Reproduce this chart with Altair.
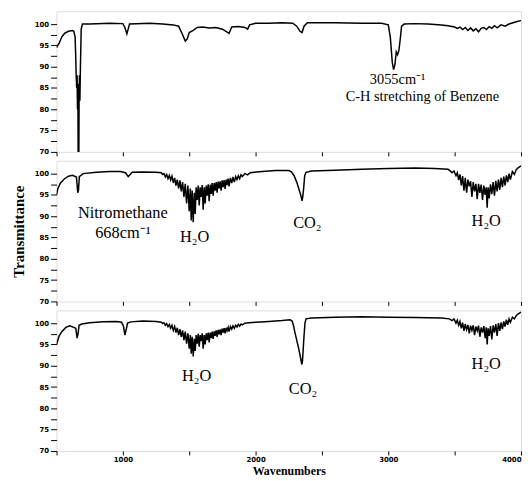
import altair as alt
import pandas as pd

# ---------------- data ----------------
# Top panel: benzene
top_wn = [500, 520, 540, 560, 590, 620, 630, 640, 645, 648, 652, 655, 658, 661, 664, 667, 670, 673, 676, 680, 686, 695,
          750, 900, 1000, 1015, 1030, 1040, 1050, 1200, 1300, 1380, 1420, 1450, 1470, 1485, 1500, 1530, 1560,
          1600, 1650, 1700, 1750, 1780, 1800, 1820, 1870, 1920, 1940, 1955, 2000, 2100, 2200, 2280, 2310, 2335,
          2350, 2365, 2390, 2600, 2800, 2950, 3000, 3015, 3030, 3040, 3050, 3060, 3070, 3080, 3090, 3100, 3120,
          3200, 3300, 3400, 3450, 3500, 3520, 3540, 3560, 3580, 3600, 3620, 3640, 3660, 3680, 3700, 3720, 3740,
          3760, 3780, 3800, 3820, 3850, 3880, 3910, 3940, 3970, 4000]
top_t = [94.5, 95.5, 97.0, 97.8, 98.3, 98.5, 98.3, 97.0, 92.0, 88.0, 85.0, 88.0, 80.0, 86.0, 60.0, 60.0, 83.0, 88.0, 82.0, 90.0, 98.8, 100.0,
         100.0, 100.2, 100.1, 99.2, 97.7, 98.8, 100.0, 100.2, 100.0, 99.8, 99.5, 97.5, 96.0, 96.5, 98.0, 98.5, 99.2,
         99.3, 99.1, 99.2, 98.8, 98.2, 97.8, 99.3, 99.4, 99.2, 98.8, 99.8, 100.2, 100.2, 100.3, 100.2, 99.5, 98.3,
         98.0, 99.5, 100.3, 100.3, 100.2, 100.2, 99.8, 97.0, 91.0, 89.3, 90.5, 93.5, 92.8, 93.8, 96.5, 99.5, 100.0,
         100.1, 100.0, 99.8, 99.6, 99.3, 99.0, 99.3, 98.7, 99.2, 98.5, 99.1, 98.4, 98.9, 98.2, 99.0, 99.2, 98.7,
         99.4, 99.0, 99.6, 99.1, 99.8, 99.5, 100.0, 100.3, 100.6, 100.8]

# Middle panel: nitromethane
mid_wn = [500, 510, 530, 560, 590, 620, 650, 660, 665, 672, 700, 800, 900, 980, 1020, 1040, 1055, 1070, 1150, 1250,
          1290, 1300, 1310, 1320, 1330, 1340, 1350, 1360, 1370, 1380, 1390, 1400, 1410, 1420, 1430, 1440, 1450,
          1460, 1470, 1480, 1490, 1500, 1508, 1515, 1522, 1530, 1538, 1545, 1552, 1560, 1568, 1575, 1583, 1590,
          1598, 1605, 1613, 1620, 1628, 1635, 1643, 1650, 1658, 1665, 1673, 1680, 1688, 1695, 1703, 1710, 1718,
          1725, 1733, 1740, 1748, 1755, 1763, 1770, 1778, 1785, 1793, 1800, 1810, 1820, 1830, 1840, 1850, 1860,
          1870, 1880, 1890, 1900, 1920, 1940, 1960, 1990, 2050, 2150, 2250, 2270, 2290, 2310, 2325, 2340, 2350,
          2355, 2362, 2370, 2380, 2420, 2600, 2800, 3000, 3200, 3350, 3450, 3460, 3480, 3495, 3510, 3520, 3530,
          3540, 3550, 3560, 3570, 3580, 3590, 3600, 3610, 3620, 3630, 3640, 3650, 3660, 3670, 3680, 3690, 3700,
          3710, 3720, 3730, 3738, 3745, 3752, 3760, 3770, 3780, 3790, 3800, 3810, 3820, 3830, 3840, 3850, 3860,
          3870, 3880, 3890, 3900, 3910, 3920, 3935, 3950, 3965, 3980, 4000]
mid_t = [95.0, 96.5, 97.8, 98.8, 99.4, 99.6, 99.2, 95.5, 96.0, 99.3, 100.0, 100.3, 100.5, 100.5, 100.2, 99.3, 99.8, 100.3, 100.4, 100.3,
         100.2, 99.8, 100.0, 99.2, 99.8, 98.8, 99.6, 98.5, 99.4, 97.8, 99.0, 97.2, 98.6, 96.5, 98.4, 95.8, 98.0,
         94.5, 97.6, 93.0, 97.2, 91.2, 96.5, 89.0, 96.0, 88.6, 95.5, 90.5, 96.8, 93.8, 97.2, 92.5, 96.8, 94.5,
         97.3, 91.5, 96.8, 93.0, 97.2, 94.8, 97.5, 93.5, 97.4, 95.2, 97.8, 94.8, 97.8, 96.0, 98.0, 95.5, 98.1,
         96.5, 98.2, 96.0, 98.4, 96.8, 98.5, 96.4, 98.6, 97.3, 98.8, 97.0, 99.0, 97.8, 99.2, 98.0, 99.3, 98.6,
         99.5, 98.8, 99.7, 99.3, 100.0, 99.7, 100.2, 100.3, 100.5, 100.7, 100.7, 100.4, 99.5, 98.0, 96.5, 95.0, 93.6,
         94.5, 96.5, 99.5, 100.3, 100.6, 100.8, 101.0, 101.2, 101.3, 101.2, 101.0, 100.8, 100.2, 100.6, 99.5, 100.2, 98.5,
         99.8, 97.2, 99.4, 96.0, 99.0, 95.5, 98.6, 97.0, 98.2, 94.5, 98.0, 95.8, 97.6, 94.0, 97.6, 95.5, 97.4,
         93.8, 97.2, 95.0, 96.8, 92.0, 96.8, 94.2, 97.5, 95.2, 98.0, 94.8, 98.3, 95.8, 98.6, 96.2, 99.0, 96.8,
         99.3, 97.2, 99.6, 98.0, 100.0, 98.6, 100.5, 99.8, 101.0, 101.4, 101.8]

# Bottom panel
bot_wn = [500, 505, 520, 540, 570, 600, 630, 645, 655, 662, 670, 690, 750, 850, 950, 990, 1005, 1015, 1025, 1035,
          1060, 1150, 1250, 1290, 1300, 1310, 1320, 1330, 1340, 1350, 1360, 1370, 1380, 1390, 1400, 1410, 1420,
          1430, 1440, 1450, 1460, 1470, 1480, 1490, 1500, 1508, 1515, 1522, 1530, 1538, 1545, 1552, 1560, 1568,
          1575, 1583, 1590, 1598, 1605, 1613, 1620, 1628, 1635, 1643, 1650, 1658, 1665, 1673, 1680, 1688, 1695,
          1703, 1710, 1718, 1725, 1733, 1740, 1748, 1755, 1763, 1770, 1778, 1785, 1793, 1800, 1810, 1820, 1830,
          1840, 1850, 1860, 1870, 1880, 1890, 1900, 1920, 1950, 2000, 2100, 2200, 2260, 2275, 2285, 2295, 2310,
          2325, 2338, 2348, 2353, 2358, 2365, 2372, 2380, 2420, 2600, 2800, 3000, 3200, 3400, 3460, 3480, 3495,
          3510, 3520, 3530, 3540, 3550, 3560, 3570, 3580, 3590, 3600, 3610, 3620, 3630, 3640, 3650, 3660, 3670,
          3680, 3690, 3700, 3710, 3720, 3730, 3738, 3745, 3752, 3760, 3770, 3780, 3790, 3800, 3810, 3820, 3830,
          3840, 3850, 3860, 3870, 3880, 3890, 3900, 3910, 3920, 3935, 3950, 3965, 3980, 4000]
bot_t = [95.0, 95.5, 97.0, 98.0, 99.0, 99.4, 99.0, 98.8, 96.5, 97.5, 99.5, 99.8, 100.1, 100.3, 100.4, 100.2, 99.2, 97.2, 98.5, 100.0,
         100.3, 100.5, 100.4, 100.2, 99.9, 100.1, 99.5, 99.9, 99.2, 99.7, 98.8, 99.5, 98.3, 99.2, 97.8, 98.9, 97.2,
         98.6, 96.8, 98.3, 96.0, 98.0, 95.2, 97.6, 94.0, 97.2, 92.8, 96.8, 92.2, 96.3, 93.5, 97.2, 95.2, 97.5,
         94.5, 97.2, 95.8, 97.6, 94.0, 97.2, 95.0, 97.6, 96.0, 97.8, 95.5, 97.8, 96.5, 98.0, 96.3, 98.1, 97.0,
         98.3, 96.8, 98.4, 97.4, 98.5, 97.2, 98.7, 97.8, 98.8, 97.6, 98.9, 98.2, 99.0, 98.0, 99.2, 98.6, 99.4,
         98.8, 99.5, 99.1, 99.7, 99.3, 99.8, 99.6, 100.0, 100.1, 100.2, 100.4, 100.6, 100.8, 100.5, 99.5, 98.0, 96.0,
         94.0, 92.0, 90.3, 91.0, 93.5, 97.0, 100.0, 101.0, 101.2, 101.4, 101.5, 101.4, 101.3, 101.2, 101.0, 100.6, 101.0,
         100.0, 100.7, 99.5, 100.4, 98.8, 100.1, 98.2, 99.8, 98.5, 99.6, 97.6, 99.4, 98.3, 99.5, 97.2, 99.2, 98.2,
         99.4, 96.8, 99.0, 97.8, 99.3, 96.5, 99.0, 95.0, 98.8, 97.0, 99.3, 96.2, 99.5, 97.8, 99.8, 97.0, 100.0,
         98.2, 100.2, 98.6, 100.4, 99.2, 100.8, 99.6, 101.0, 100.2, 101.4, 101.0, 101.8, 102.2, 102.6]

# Annotations (text, wavenumber, transmittance)
top_notes = ["3055cm⁻¹", "C-H stretching of Benzene"]
top_notes_wn = [3070, 3257]
top_notes_t = [86.8, 82.9]

mid_notes = ["Nitromethane", "668cm⁻¹", "H₂O", "CO₂", "H₂O"]
mid_notes_wn = [1000, 1000, 1540, 2390, 3738]
mid_notes_t = [90.8, 86.0, 85.1, 88.3, 88.8]

bot_notes = ["H₂O", "CO₂", "H₂O"]
bot_notes_wn = [1555, 2357, 3738]
bot_notes_t = [87.5, 84.5, 90.3]

x_ticks = [500, 1000, 1500, 2000, 2500, 3000, 3500, 4000]
y_ticks = [70, 72.5, 75, 77.5, 80, 82.5, 85, 87.5, 90, 92.5, 95, 97.5, 100]

# ---------------- chart ----------------
W, H = 469, 142
SERIF = "Liberation Serif"


def panel(wn, t, nt, nwn, nval, note_size, bottom=False, ytitle=""):
    df = pd.DataFrame({"wn": wn, "t": t})
    notes = pd.DataFrame({"label": nt, "wn": nwn, "t": nval})

    xaxis_kw = dict(values=x_ticks, format="d",
                    labelExpr="datum.value % 1000 == 0 ? datum.label : ''",
                    tickSize=4, tickColor="black", domain=False, grid=False,
                    labelFont="DejaVu Sans", labelFontSize=7, labelFontWeight="bold",
                    labelColor="black", labelPadding=1, labelFlush=True, labelOverlap=False,
                    titleFont=SERIF, titleFontSize=12, titleFontWeight="bold",
                    titleColor="black", titlePadding=3)
    if bottom:
        xaxis_kw["title"] = "Wavenumbers"
    else:
        xaxis_kw["title"] = ""
        xaxis_kw["labels"] = False

    yaxis = alt.Axis(values=y_ticks, format="d",
                     labelExpr="datum.value % 5 == 0 ? datum.label : ''",
                     tickSize=6, tickColor="black", domain=False, grid=False,
                     labelFont="DejaVu Sans", labelFontSize=7, labelFontWeight="bold",
                     labelColor="black", labelPadding=2, labelOverlap=False,
                     title=ytitle, titleFont=SERIF, titleFontSize=15,
                     titleFontWeight="bold", titleColor="black", titlePadding=8)

    x = alt.X("wn:Q", scale=alt.Scale(domain=[500, 4000], nice=False), axis=alt.Axis(**xaxis_kw))
    y = alt.Y("t:Q", scale=alt.Scale(domain=[70, 103], nice=False, zero=False), axis=yaxis)

    line = alt.Chart(df).mark_line(color="black", strokeWidth=1.5, clip=True).encode(
        x=x, y=y, order="wn:Q")
    text = alt.Chart(notes).mark_text(font=SERIF, fontSize=note_size, color="black",
                                      align="center", baseline="middle").encode(
        x=x, y=y, text="label:N")
    return alt.layer(line, text).properties(width=W, height=H)


top = panel(top_wn, top_t, top_notes, top_notes_wn, top_notes_t, 14.5)
mid = panel(mid_wn, mid_t, mid_notes, mid_notes_wn, mid_notes_t, 16.5, ytitle="Transmittance")
bot = panel(bot_wn, bot_t, bot_notes, bot_notes_wn, bot_notes_t, 16.5, bottom=True)

chart = alt.vconcat(top, mid, bot, spacing=3).properties(
    padding={"left": 2, "right": 0, "top": 0, "bottom": 0}
).configure_view(stroke="black", strokeWidth=1.5).configure(background="white")

chart.save("out.html", embed_options={"renderer": "svg", "actions": False})
